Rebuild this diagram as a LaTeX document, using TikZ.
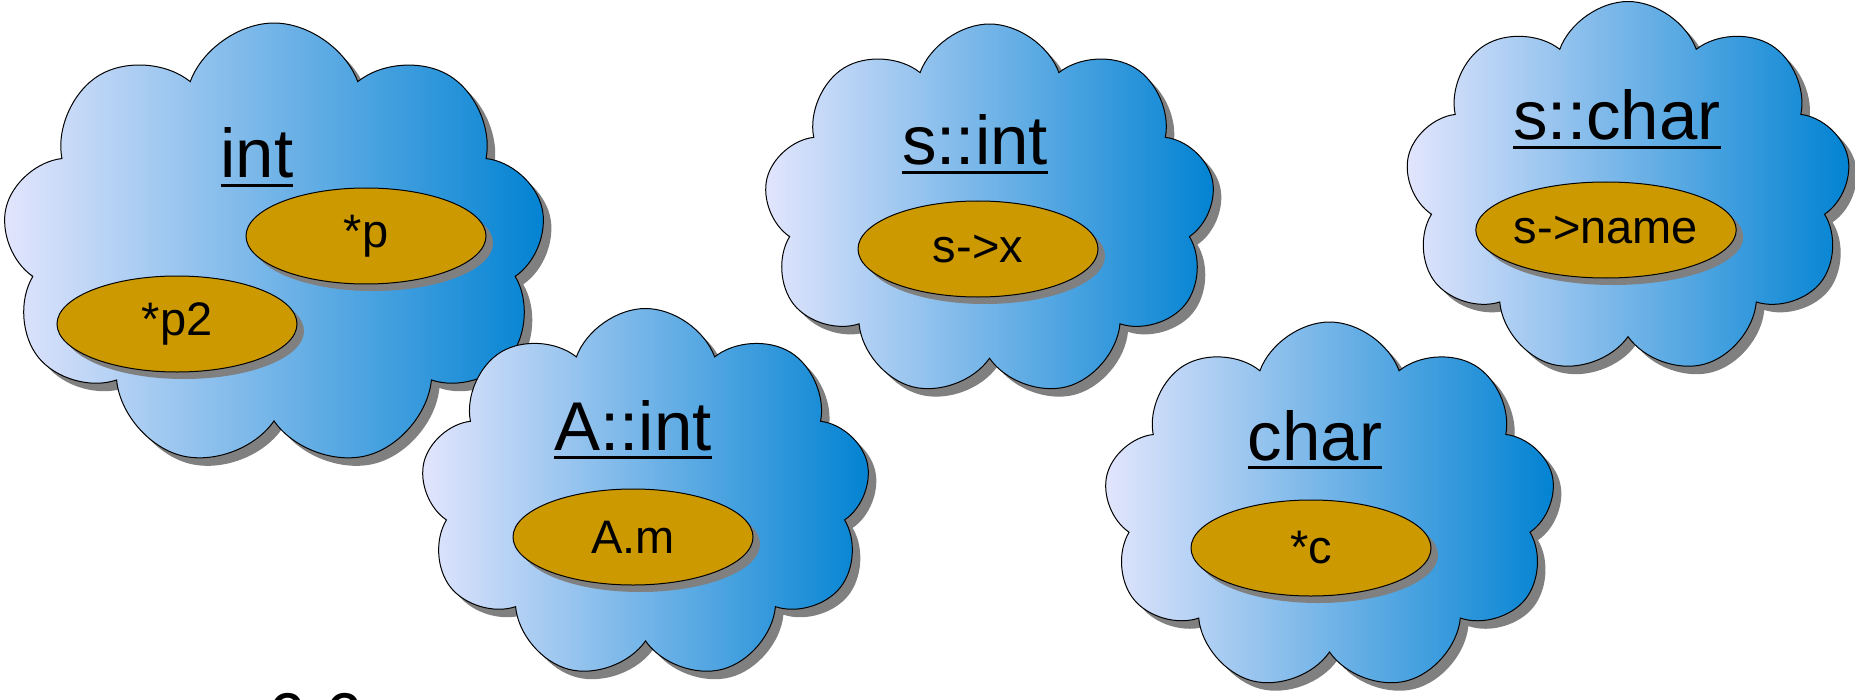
\documentclass[tikz,border=0pt]{standalone}
\usepackage{fontspec}
\setmainfont{Liberation Sans}
\usetikzlibrary{shapes.symbols, shapes.geometric, shadows, positioning}
\newcommand{\TypeName}[1]{\fontsize{34.5}{40}\selectfont\setbox0\hbox{#1}\rlap{\raisebox{-4.3pt}{\rule{\wd0}{1.4pt}}}\box0}
\newcommand{\ValName}[1]{\fontsize{23.5}{28}\selectfont #1}
\definecolor{cloudlight}{RGB}{228,230,253}
\definecolor{clouddark}{RGB}{0,130,210}
\definecolor{valgold}{RGB}{204,153,0}
\definecolor{shadowgray}{RGB}{128,128,128}

\begin{document}
\begin{tikzpicture}[x=0.5pt,y=-0.5pt,
  typecloud/.style={cloud, cloud puffs=9, cloud puff arc=140, cloud ignores aspect, draw, line width=0.5pt,
    left color=cloudlight, right color=clouddark, inner sep=0pt, outer sep=0pt,
    drop shadow={shadow xshift=4pt, shadow yshift=-4pt, fill=shadowgray, opacity=1}},
  valnode/.style={ellipse, draw, line width=0.5pt, fill=valgold, inner sep=0pt,
    minimum width=120pt, minimum height=48pt,
    drop shadow={shadow xshift=3.5pt, shadow yshift=-3.5pt, fill=shadowgray, opacity=1}},
  typename/.style={anchor=base, inner sep=0pt}]
  \useasboundingbox (0,0) rectangle (1855,700);

  % int
  \node[typecloud, minimum width=272pt, minimum height=223pt] (IntCloud) at (274,246) {};
  \node[typename] (IntName) at (257,178) {\TypeName{int}};
  \node[valnode] (PVal) at (366,236) {\ValName{*p}};
  \node[valnode] (PTwoVal) at (177,324) {\ValName{*p2}};

  % A::int
  \node[typecloud, minimum width=225pt, minimum height=186pt] (AIntCloud) at (645.5,494.5) {};
  \node[typename] (AIntName) at (633,450) {\TypeName{A::int}};
  \node[valnode] (AmVal) at (633,537) {\ValName{A.m}};

  % s::int
  \node[typecloud, minimum width=226pt, minimum height=187pt] (SIntCloud) at (989.5,211) {};
  \node[typename] (SIntName) at (975,165) {\TypeName{s::int}};
  \node[valnode] (SxVal) at (978,249) {\ValName{s->x}};

  % char
  \node[typecloud, minimum width=226pt, minimum height=185pt] (CharCloud) at (1329.5,507) {};
  \node[typename] (CharName) at (1315,460) {\TypeName{char}};
  \node[valnode] (CVal) at (1311,548) {\ValName{*c}};

  % s::char
  \node[typecloud, minimum width=223pt, minimum height=187pt] (SCharCloud) at (1628,188.5) {};
  \node[typename] (SCharName) at (1617,140) {\TypeName{s::char}};
  \node[valnode] (SNameVal) at (1606,230) {\ValName{s->name}};

  \node[anchor=base west, inner sep=0pt, font=\fontsize{34.5}{40}\selectfont] (Note) at (267,741) {6.6};
\end{tikzpicture}
\end{document}
